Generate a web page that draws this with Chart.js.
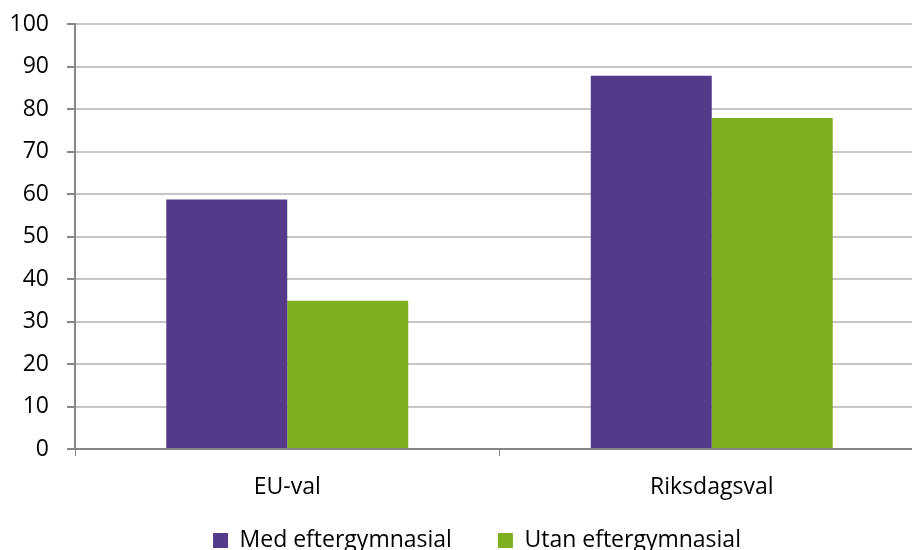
<!DOCTYPE html>
<html>
<head>
<meta charset="utf-8">
<script src="https://cdn.jsdelivr.net/npm/chart.js@4"></script>
<style>
  html, body { margin: 0; padding: 0; background: #fff; overflow: hidden; }
  #wrap { width: 924px; height: 550px; }
</style>
</head>
<body>
<div id="wrap"><canvas id="graf"></canvas></div>
<script>
const kategorier = ["EU-val", "Riksdagsval"];
const medEftergymnasial = [58.7, 87.8];
const utanEftergymnasial = [34.9, 77.9];
const yTicks = [0, 10, 20, 30, 40, 50, 60, 70, 80, 90, 100];

const font = { family: "'Open Sans', sans-serif", size: 23 };

// nudge the legend a little to the right, like the original
const legendShift = {
  id: "legendShift",
  afterInit(chart) {
    const lg = chart.legend;
    const orig = lg.draw.bind(lg);
    lg.draw = function (area) {
      chart.ctx.save();
      chart.ctx.translate(15, 0);
      orig(area);
      chart.ctx.restore();
    };
  },
};

new Chart(document.getElementById("graf"), {
  type: "bar",
  data: {
    labels: kategorier,
    datasets: [
      {
        label: "Med eftergymnasial",
        data: medEftergymnasial,
        backgroundColor: "#553A8C",
      },
      {
        label: "Utan eftergymnasial",
        data: utanEftergymnasial,
        backgroundColor: "#7DAF1F",
      },
    ],
  },
  plugins: [legendShift],
  options: {
    responsive: true,
    maintainAspectRatio: false,
    animation: false,
    layout: { padding: { top: 24, left: 0, right: 0, bottom: -12 } },
    datasets: {
      bar: { barPercentage: 1, categoryPercentage: 0.57 },
    },
    scales: {
      x: {
        grid: {
          display: true,
          drawOnChartArea: false,
          offset: true,
          tickLength: 7,
          tickColor: "#878787",
        },
        border: { color: "#878787", width: 2 },
        // mirror + negative padding keeps labels below the axis without clipping
        ticks: { color: "#000", font: font, mirror: true, padding: -52 },
        afterFit: (s) => { s.height = 34; },
      },
      y: {
        min: 0,
        max: 100,
        afterBuildTicks: (s) => { s.ticks = yTicks.map((v) => ({ value: v })); },
        grid: { color: "#c6c6c6", lineWidth: 2, tickLength: 8, tickColor: "#878787" },
        border: { color: "#878787", width: 2 },
        ticks: { color: "#000", font: font, padding: 18 },
        afterFit: (s) => { s.width = 75; s.paddingTop = 0; s.paddingBottom = 0; },
      },
    },
    plugins: {
      legend: {
        position: "bottom",
        labels: {
          color: "#000",
          font: font,
          boxWidth: 15,
          boxHeight: 15,
          padding: 46,
        },
      },
      tooltip: { enabled: false },
    },
  },
});
</script>
</body>
</html>
